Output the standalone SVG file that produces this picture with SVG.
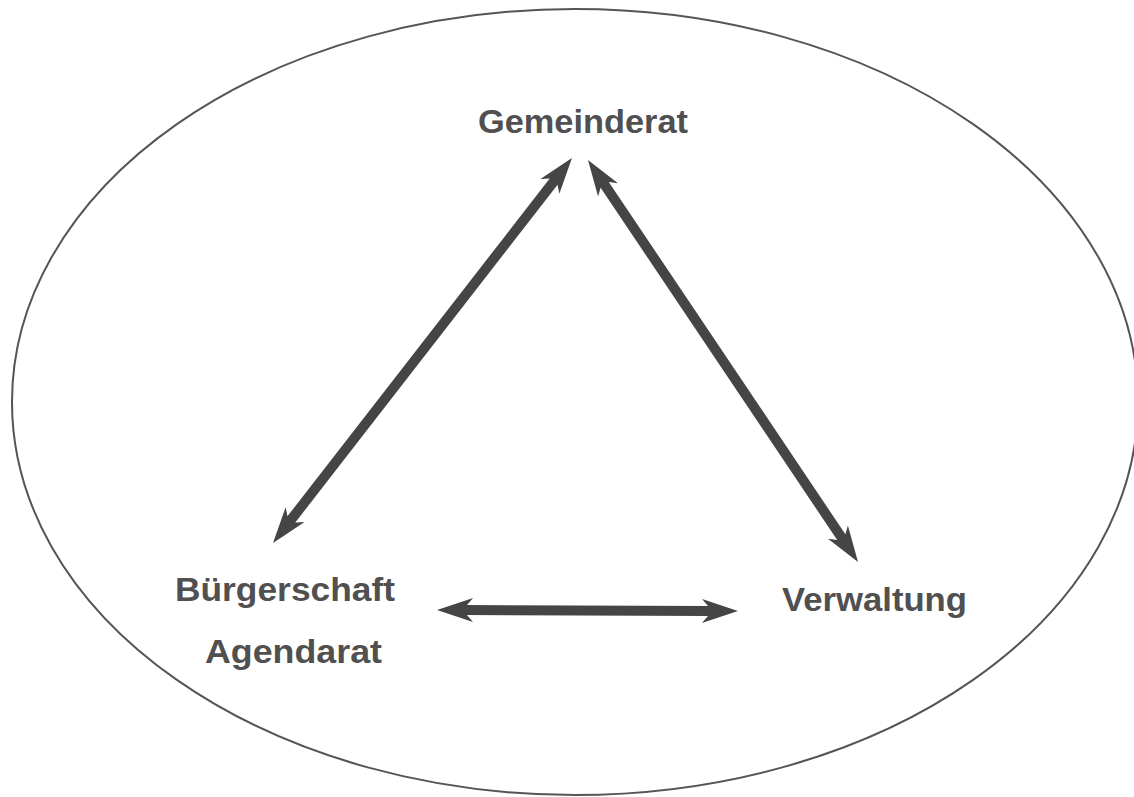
<svg xmlns="http://www.w3.org/2000/svg" width="1134" height="797" viewBox="0 0 1134 797">
<defs>
<style>
.lbl{font-family:"Liberation Sans",Arial,sans-serif;font-weight:bold;font-size:33px;fill:#505050}
.conn{stroke:#454545;stroke-width:10;fill:none;stroke-linecap:butt}
</style>
<marker id="ah" markerUnits="userSpaceOnUse" viewBox="-10 -15 50 30" markerWidth="50" markerHeight="30" refX="0" refY="0" orient="auto-start-reverse">
<path d="M28,0 L-8,-12 L-2,-5 L-2,5 L-8,12 Z" fill="#454545"/>
</marker>
</defs>
<rect width="1134" height="797" fill="#ffffff"/>
<g id="boundary">
<ellipse cx="575" cy="402" rx="563" ry="393" fill="none" stroke="#555" stroke-width="2"/>
</g>
<g id="connectors">
<line class="conn" x1="290.2" y1="520.9" x2="554.8" y2="180.1" marker-start="url(#ah)" marker-end="url(#ah)"/>
<line class="conn" x1="603.6" y1="183.2" x2="842.4" y2="538.8" marker-start="url(#ah)" marker-end="url(#ah)"/>
<line class="conn" x1="465" y1="610" x2="710" y2="611" marker-start="url(#ah)" marker-end="url(#ah)"/>
</g>
<g id="gemeinderat">
<text class="lbl" x="478" y="133" textLength="210" lengthAdjust="spacingAndGlyphs">Gemeinderat</text>
</g>
<g id="buergerschaft">
<text class="lbl" x="175" y="601" textLength="220" lengthAdjust="spacingAndGlyphs">Bürgerschaft</text>
<text class="lbl" x="205" y="663" textLength="177" lengthAdjust="spacingAndGlyphs">Agendarat</text>
</g>
<g id="verwaltung">
<text class="lbl" x="782" y="611" textLength="185" lengthAdjust="spacingAndGlyphs">Verwaltung</text>
</g>
</svg>
